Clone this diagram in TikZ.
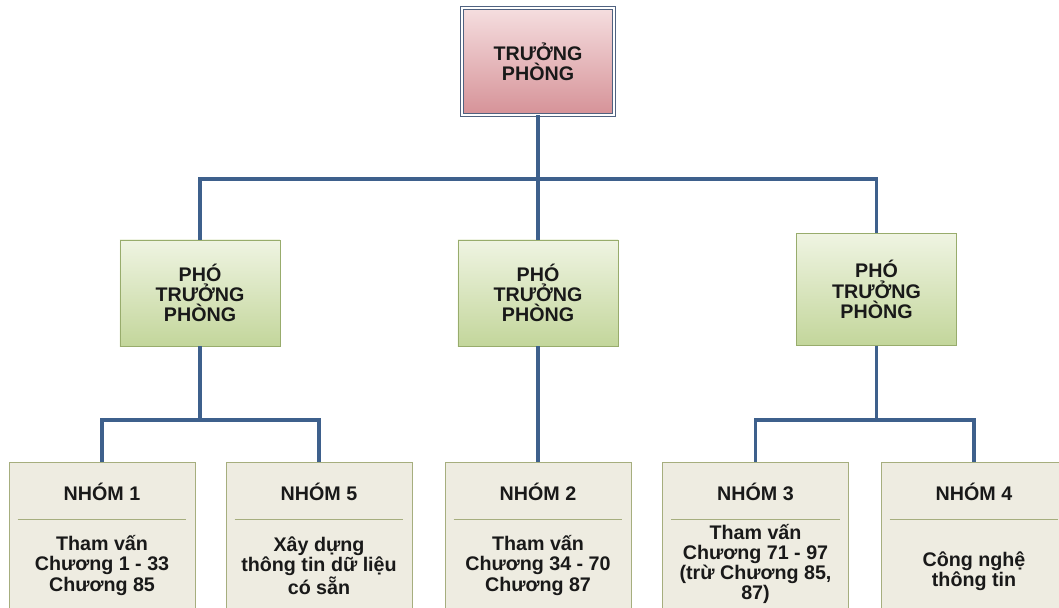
\documentclass[tikz,border=0pt]{standalone}
\usepackage{fontspec}
\setmainfont{Liberation Sans}
\usepackage{xcolor}
\usetikzlibrary{calc}

\definecolor{linkblue}{RGB}{62,96,140}
\definecolor{frameblue}{RGB}{80,98,128}
\definecolor{pinktop}{RGB}{245,222,223}
\definecolor{pinkbot}{RGB}{214,146,152}
\definecolor{greentop}{RGB}{239,244,226}
\definecolor{greenbot}{RGB}{195,214,155}
\definecolor{greenline}{RGB}{152,172,108}
\definecolor{tanfill}{RGB}{238,236,225}
\definecolor{tanline}{RGB}{166,174,126}

\tikzset{
  lbl/.style={font=\bfseries\fontsize{14}{14.4}\selectfont, text=black!90, align=center},
  headbox/.style={lbl, draw=frameblue, line width=0.7pt, double=white, double distance=1.6pt,
    top color=pinktop, bottom color=pinkbot, minimum width=3.8cm, minimum height=2.66cm},
  deputybox/.style={lbl, draw=greenline, line width=0.6pt, top color=greentop, bottom color=greenbot,
    minimum width=4cm, minimum height=2.65cm},
  groupbox/.style={draw=tanline, line width=0.6pt, fill=tanfill, anchor=north,
    minimum width=4.65cm, minimum height=4.5cm},
  sepline/.style={draw=tanline, line width=0.6pt},
  conn/.style={draw=linkblue, line width=2.2pt},
}

\begin{document}
\begin{tikzpicture}[x=0.025cm, y=-0.025cm]
    \clip (0,0) rectangle (1059,607);

    % Truong phong
    \node[headbox] (head) at (538,61.5) {TRƯỞNG\\PHÒNG};

    % Pho truong phong
    \node[deputybox] (dep1) at (200,293) {PHÓ\\TRƯỞNG\\PHÒNG};
    \node[deputybox] (dep2) at (538,293) {PHÓ\\TRƯỞNG\\PHÒNG};
    \node[deputybox, minimum height=2.78cm] (dep3) at (876.5,289.5) {PHÓ\\TRƯỞNG\\PHÒNG};

    % Nhom
    \node[groupbox] (grp1) at (102,462) {};
    \node[lbl] (tit1) at ($(grp1.north)+(0,29.5)$) {NHÓM 1};
    \draw[sepline] ($(grp1.north west)+(9,57)$) -- ($(grp1.north east)+(-9,57)$);
    \node[lbl] (txt1) at ($(grp1.north)+(0,103.5)$) {Tham vấn\\Chương 1 - 33\\Chương 85};

    \node[groupbox] (grp5) at (319,462) {};
    \node[lbl] (tit5) at ($(grp5.north)+(0,29.5)$) {NHÓM 5};
    \draw[sepline] ($(grp5.north west)+(9,57)$) -- ($(grp5.north east)+(-9,57)$);
    \node[lbl] (txt5) at ($(grp5.north)+(0,103.5)$) {Xây dựng\\thông tin dữ liệu\\có sẵn};

    \node[groupbox] (grp2) at (538,462) {};
    \node[lbl] (tit2) at ($(grp2.north)+(0,29.5)$) {NHÓM 2};
    \draw[sepline] ($(grp2.north west)+(9,57)$) -- ($(grp2.north east)+(-9,57)$);
    \node[lbl] (txt2) at ($(grp2.north)+(0,103.5)$) {Tham vấn\\Chương 34 - 70\\Chương 87};

    \node[groupbox] (grp3) at (755.5,462) {};
    \node[lbl] (tit3) at ($(grp3.north)+(0,29.5)$) {NHÓM 3};
    \draw[sepline] ($(grp3.north west)+(9,57)$) -- ($(grp3.north east)+(-9,57)$);
    \node[lbl] (txt3) at ($(grp3.north)+(0,102)$) {Tham vấn\\Chương 71 - 97\\(trừ Chương 85,\\87)};

    \node[groupbox] (grp4) at (974,462) {};
    \node[lbl] (tit4) at ($(grp4.north)+(0,29.5)$) {NHÓM 4};
    \draw[sepline] ($(grp4.north west)+(9,57)$) -- ($(grp4.north east)+(-9,57)$);
    \node[lbl] (txt4) at ($(grp4.north)+(0,109)$) {Công nghệ\\thông tin};

    % Duong noi
    \coordinate (bus) at (538,179);
    \coordinate (busL) at (200,420);
    \coordinate (busR) at (876.5,420);
    \draw[conn] (head.south) -- (head.south |- bus) -| (dep1.north);
    \draw[conn] (head.south |- bus) -| (dep3.north);
    \draw[conn] (head.south) -- (dep2.north);
    \draw[conn] (dep1.south) -- (busL) -| (grp1.north);
    \draw[conn] (busL) -| (grp5.north);
    \draw[conn] (dep2.south) -- (grp2.north);
    \draw[conn] (dep3.south) -- (busR) -| (grp3.north);
    \draw[conn] (busR) -| (grp4.north);
\end{tikzpicture}
\end{document}
